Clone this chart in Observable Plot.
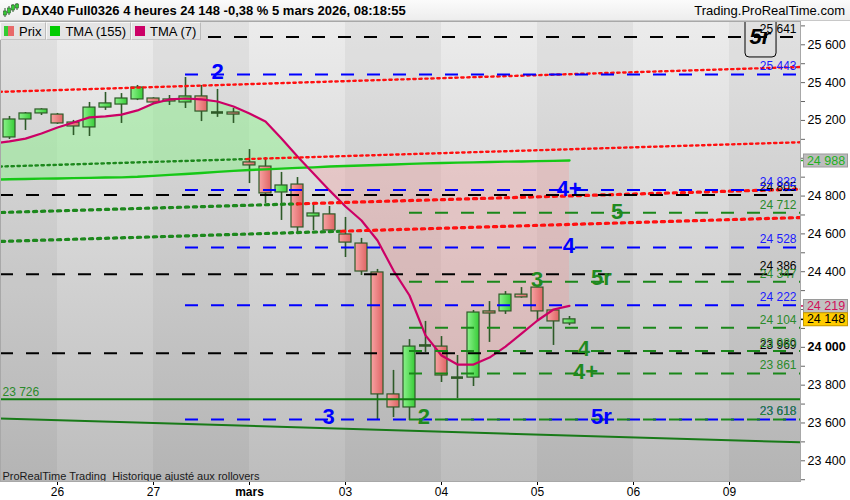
<!DOCTYPE html>
<html lang="fr">
<head>
<meta charset="utf-8">
<script src="https://cdn.jsdelivr.net/npm/d3@7"></script>
<script src="https://cdn.jsdelivr.net/npm/@observablehq/plot@0.6"></script>
<style>
  html, body { margin: 0; padding: 0; background: #fff; }
  #chart { position: relative; width: 850px; height: 500px; overflow: hidden; font-family: "Liberation Sans", Arial, sans-serif; }
  #bar { position: absolute; left: 0; top: 0; width: 850px; height: 21px; background: linear-gradient(#fbfbfb, #ededed); border-bottom: 1px solid #c8c8c8; box-sizing: border-box; }
  #bar .t { position: absolute; left: 22px; top: 3px; font-size: 13px; font-weight: bold; color: #000; white-space: nowrap; }
  #bar .r { position: absolute; right: 5px; top: 3px; font-size: 13px; color: #000; white-space: nowrap; }
  #bar svg { position: absolute; left: 3px; top: 3px; }
  #plot { position: absolute; left: 0; top: 21px; }
  #legend { position: absolute; left: 0; top: 22px; height: 18px; display: flex; font-size: 13px; color: #000; }
  #legend .it { display: flex; align-items: center; background: #e4e4e4; border: 1px solid #f7f7f7; border-right-color: #bcbcbc; border-bottom-color: #c4c4c4; padding: 0 4px 0 3px; gap: 5px; box-sizing: border-box; height: 18px; }
  #legend .sw { width: 10px; height: 10px; display: inline-block; }
</style>
</head>
<body>
<div id="chart">
  <div id="bar">
    <svg width="16" height="15" viewBox="0 0 16 15">
      <line x1="2" y1="5" x2="2" y2="14" stroke="#2a5a2a"/><rect x="0.5" y="8" width="3" height="4" fill="#3c3" stroke="#2a5a2a" stroke-width="0.6"/>
      <line x1="6" y1="3" x2="6" y2="12" stroke="#2a5a2a"/><rect x="4.5" y="5" width="3" height="5" fill="#3c3" stroke="#2a5a2a" stroke-width="0.6"/>
      <line x1="10" y1="1" x2="10" y2="9" stroke="#2a5a2a"/><rect x="8.5" y="2" width="3" height="5" fill="#3c3" stroke="#2a5a2a" stroke-width="0.6"/>
      <line x1="14" y1="0" x2="14" y2="7" stroke="#2a5a2a"/><rect x="12.5" y="1" width="3" height="4" fill="#3c3" stroke="#2a5a2a" stroke-width="0.6"/>
    </svg>
    <span class="t" id="title"></span>
    <span class="r">Trading.ProRealTime.com</span>
  </div>
  <div id="plot"></div>
  <div id="legend">
    <div class="it"><span class="sw" style="background:linear-gradient(90deg,#33cc33 45%,#e86a6a 45%)"></span>Prix</div>
    <div class="it"><span class="sw" style="background:#00cc00"></span>TMA (155)</div>
    <div class="it"><span class="sw" style="background:#cc0066"></span>TMA (7)</div>
  </div>
</div>
<script>
// ---- 4-hour bars of the DAX40 future (bar index 0 = first bar drawn, 6 bars per session)
const open  = [25110,25205,25237,25231,25189,25163,25268,25284,25311,25316,25311,25295,25327,25242,25242,24978,24956,24819,24861,24692,24703,24597,24549,24396,23751,23682,24010,24004,23840,23840,24190,24190,24279,24316,24195,24126];
const high  = [25221,25242,25262,25237,25200,25295,25348,25342,25385,25320,25332,25427,25385,25364,25263,25046,25004,24925,24898,24761,24745,24687,24576,24412,23878,24041,24137,24057,23957,24195,24242,24295,24316,24320,24200,24163];
const low   = [25099,25147,25226,25179,25120,25115,25253,25184,25305,25284,25279,25263,25194,25216,25184,24866,24761,24671,24602,24618,24612,24475,24380,23613,23629,23613,23973,23814,23729,23793,24026,24174,24260,24142,24010,24115];
const close = [25205,25237,25258,25184,25168,25268,25290,25316,25374,25295,25300,25327,25247,25242,25231,24962,24814,24856,24634,24708,24618,24554,24401,23751,23682,24004,24010,23851,23840,24184,24179,24279,24264,24190,24137,24148];

// ---- moving averages, starting one bar before the first drawn bar
const tmaFirstBar = -1;
const tma7   = [25078,25089,25104,25131,25163,25189,25216,25221,25231,25253,25290,25311,25316,25311,25300,25274,25237,25194,25104,25009,24919,24830,24745,24671,24565,24406,24274,24063,23957,23909,23909,23946,24004,24073,24142,24200,24219];
const tma155 = [24887,24889,24890,24892,24893,24895,24896,24898,24899,24902,24907,24912,24917,24922,24928,24933,24938,24941,24945,24949,24952,24956,24959,24962,24964,24967,24970,24973,24975,24977,24978,24980,24982,24983,24985,24986,24988];

// ---- sessions on the time axis (bar index of each session's first bar)
const sessionStart = [3, 9, 15, 21, 27, 33, 39, 45];
const sessionLabel = ["26", "27", "mars", "03", "04", "05", "06", "09"];

// ---- horizontal levels, and the bar where each family of levels begins
const blackLevels = [25641, 24805, 24386, 23969];
const blueLevels  = [25443, 24832, 24528, 24222, 23618];
const greenLevels = [24712, 24347, 24104, 23980, 23861, 23618];
const blueFromBar = 11;
const greenFromBar = 25;
const supportLevel = 23726;

// ---- trend channels: value at bar -1 and at bar 50, and the bar where the line turns from green to red
const trendStart = [25350, 24955, 24712, 24559];
const trendEnd   = [25484, 25086, 24838, 24688];
const trendTurn  = [-1, 14.8, 18, 20.75];
const lowerTrend = [23625, 23496];

// ---- wave counts written on the chart
const waveText  = ["2", "4+", "4", "3", "5r", "5", "5r", "3", "4", "4+", "2"];
const waveBar   = [13, 34.98, 34.96, 19.94, 37.0, 37.97, 37.0, 32.97, 35.9, 36.0, 25.9];
const waveValue = [25456, 24837, 24536, 23634, 23634, 24718, 24366, 24354, 23991, 23872, 23632];
const waveGroup = ["b", "b", "b", "b", "b", "g", "g", "g", "g", "g", "g"];
const badgeText = "5r";
const badgeBar = 46.9, badgeValue = 25641;
const badgeBox = {bar1: 46.0, bar2: 47.94, value1: 25533, value2: 25780};

const yLabels = [23400, 23600, 23800, 24000, 24200, 24400, 24600, 24800, 25000, 25200, 25400, 25600];

// ------------------------------------------------------------------
const fmt = v => d3.format(",")(v).replace(/,/g, " ");
document.getElementById("title").textContent =
  `DAX40 Full0326 4 heures ${fmt(close[close.length - 1])} -0,38 % 5 mars 2026, 08:18:55`;

const xLo = -0.5625, xHi = 49.4375;        // visible bar range
const yLo = 23290.5, yHi = 25723.2;         // visible price range
const px = 800 / (xHi - xLo);               // pixels per bar
const pxPerPoint = 460 / (yHi - yLo);

const bars = open.map((o, i) => ({bar: i, open: o, high: high[i], low: low[i], close: close[i]}));
const upBars = bars.filter(d => d.close > d.open);
const downBars = bars.filter(d => d.close < d.open);
const dojiBars = bars.filter(d => d.close === d.open);
const half = 6 / px;

const tma = tma7.map((v, i) => ({bar: tmaFirstBar + i, fast: v, slow: tma155[i]}));
// insert the exact crossings so each shaded band closes on the lines
const bands = [];
tma.forEach((r, i) => {
  bands.push(r);
  const n = tma[i + 1];
  if (!n) return;
  const d0 = r.fast - r.slow, d1 = n.fast - n.slow;
  if (d0 * d1 < 0) {
    const t = d0 / (d0 - d1);
    const v = r.slow + t * (n.slow - r.slow);
    bands.push({bar: r.bar + t * (n.bar - r.bar), fast: v, slow: v});
  }
});

// day shading
const sessionEdges = [-1, ...sessionStart, 51];
const darkDays = [];
for (let i = 0; i < sessionEdges.length - 1; i += 2) darkDays.push({a: sessionEdges[i], b: sessionEdges[i + 1]});

// trend channel segments
const trendAt = (i, b) => trendStart[i] + (trendEnd[i] - trendStart[i]) * (b + 1) / 51;
const trendMarks = [];
trendStart.forEach((v, i) => {
  const big = i >= 2;
  const dash = big ? {strokeWidth: 3.2, strokeDasharray: "3.2,4.8"} : {strokeWidth: 2.4, strokeDasharray: "2.4,3.6"};
  const t = trendTurn[i];
  if (t > -1) {
    trendMarks.push(Plot.line([{b: -1, v: trendStart[i]}, {b: t, v: trendAt(i, t)}],
      {x: "b", y: "v", stroke: "#1d881d", clip: true, ...dash}));
  }
  trendMarks.push(Plot.line([{b: Math.max(t, -1), v: trendAt(i, Math.max(t, -1))}, {b: 50, v: trendEnd[i]}],
    {x: "b", y: "v", stroke: "#ff1010", clip: true, ...dash}));
});

const waves = waveText.map((t, i) => ({t, bar: waveBar[i], v: waveValue[i], g: waveGroup[i]}));
const ink = {b: "#0000ff", g: "#1f8a1f"};

const levelRule = (vals, from, stroke) =>
  Plot.ruleY(vals, {y: d => d, x1: from, x2: xHi, stroke, strokeWidth: 2, strokeDasharray: "13,13"});
const levelText = (vals, fill) =>
  Plot.text(vals, {y: d => d, text: fmt, frameAnchor: "right", textAnchor: "end", dx: -4, dy: -8, fill, fontSize: 12});

const lastFast = tma7[tma7.length - 1], lastSlow = tma155[tma155.length - 1], lastClose = close[close.length - 1];
const boxed = [lastSlow, lastFast, lastClose];
const priceBox = (v, fillBox, border, ink) => [
  Plot.ruleY([v], {y: d => d, x1: xHi, x2: xHi + 5 / px, stroke: ink, strokeWidth: 1.5}),
  Plot.ruleY([v], {y: d => d, x1: xHi + 3 / px, x2: xHi + 48 / px, stroke: border, strokeWidth: 14}),
  Plot.ruleY([v], {y: d => d, x1: xHi + 4 / px, x2: xHi + 47 / px, stroke: fillBox, strokeWidth: 12}),
  Plot.text([v], {y: d => d, text: fmt, frameAnchor: "right", textAnchor: "middle", dx: 25.5, fill: ink, fontSize: 12.5})
];
// axis labels that sit under a boxed price are covered by it
const shownLabels = yLabels.filter(v => boxed.every(b => Math.abs(b - v) * pxPerPoint > 10));

const chart = Plot.plot({
  width: 850,
  height: 479,
  marginTop: 0, marginRight: 50, marginBottom: 19, marginLeft: 0,
  style: {fontFamily: '"Liberation Sans", Arial, sans-serif', fontSize: "12px", background: "transparent", color: "#000"},
  x: {domain: [xLo, xHi], ticks: sessionStart, tickFormat: d => sessionLabel[sessionStart.indexOf(d)], tickSize: 4, tickPadding: 2, label: null},
  y: {domain: [yLo, yHi], axis: null},
  color: {type: "identity"},
  marks: [
    Plot.frame({fill: "url(#bgGrad)"}),
    Plot.rect(darkDays, {x1: "a", x2: "b", fill: "#000", fillOpacity: 0.045, clip: true}),

    // area between the fast and slow averages
    Plot.areaY(bands, {x: "bar", y1: "slow", y2: d => Math.max(d.fast, d.slow), fill: "#8cf08c", fillOpacity: 0.5, clip: true}),
    Plot.areaY(bands, {x: "bar", y1: "slow", y2: d => Math.min(d.fast, d.slow), fill: "#f59a9a", fillOpacity: 0.33, clip: true}),

    // candles
    Plot.ruleX(bars, {x: "bar", y1: "low", y2: "high", stroke: "#2e5a28", strokeWidth: 1.6}),
    Plot.rect(upBars, {x1: d => d.bar - half, x2: d => d.bar + half, y1: "open", y2: "close", fill: "url(#gUp)", stroke: "#2e5a28", strokeWidth: 1.2}),
    Plot.rect(downBars, {x1: d => d.bar - half, x2: d => d.bar + half, y1: "open", y2: "close", fill: "url(#gDn)", stroke: "#2e5a28", strokeWidth: 1.2}),
    Plot.ruleY(dojiBars, {y: "open", x1: d => d.bar - half, x2: d => d.bar + half, stroke: "#2e5a28", strokeWidth: 2.6}),

    // averages
    Plot.line(tma, {x: "bar", y: "slow", stroke: "#16c816", strokeWidth: 2.4, clip: true}),
    Plot.line(tma, {x: "bar", y: "fast", stroke: "#cc0066", strokeWidth: 2.2, clip: true}),

    // trend channel and supports
    ...trendMarks,
    Plot.ruleY([supportLevel], {y: d => d, x1: xLo, x2: xHi, stroke: "#127c12", strokeWidth: 2}),
    Plot.line([{b: -1, v: lowerTrend[0]}, {b: 50, v: lowerTrend[1]}], {x: "b", y: "v", stroke: "#187a18", strokeWidth: 2, clip: true}),

    // horizontal levels
    levelRule(blackLevels, xLo, "#000"),
    levelRule(blueLevels, blueFromBar, "#0000ff"),
    levelRule(greenLevels, greenFromBar, "#1a871a"),
    levelText(blackLevels, "#000"),
    levelText(blueLevels, "#1a1aff"),
    levelText(greenLevels, "#2a8a2a"),
    Plot.text([supportLevel], {y: d => d, text: fmt, frameAnchor: "left", textAnchor: "start", dx: 2, dy: -7, fill: "#2a8a2a", fontSize: 12}),

    // wave counts
    Plot.text(waves, {x: "bar", y: "v", text: "t", fill: d => ink[d.g], fontSize: 22, fontWeight: "bold"}),
    Plot.rect([badgeBox], {x1: "bar1", x2: "bar2", y1: "value1", y2: "value2", fill: "none", stroke: "#000", strokeWidth: 1, rx: 4, clip: true}),
    Plot.text([badgeText], {x: () => badgeBar, y: () => badgeValue, text: d => d, fontSize: 22, fontWeight: "bold", fontStyle: "italic", fill: "#000"}),

    Plot.text(["ProRealTime Trading\u00a0 Historique ajusté aux rollovers"], {frameAnchor: "bottom-left", dx: 2, dy: -2, fontSize: 11, fill: "#1a1a1a"}),

    // price axis on the right
    Plot.ruleY(d3.range(23300, 25701, 100), {y: d => d, x1: xHi, x2: xHi + 5 / px, stroke: "#666", strokeWidth: 1}),
    Plot.text(shownLabels.filter(v => v % 1000 !== 0), {y: d => d, text: fmt, frameAnchor: "right", textAnchor: "start", dx: 7, fontSize: 12.5}),
    Plot.text(shownLabels.filter(v => v % 1000 === 0), {y: d => d, text: fmt, frameAnchor: "right", textAnchor: "start", dx: 7, fontSize: 12.5, fontWeight: "bold"}),
    ...priceBox(lastSlow, "#bdbdbd", "#9a9a9a", "#20b020"),
    ...priceBox(lastFast, "#c2c2c2", "#9a9a9a", "#d0105a"),
    ...priceBox(lastClose, "#ffcc00", "#c89a00", "#000"),

    Plot.frame({stroke: "#a8a8a8"})
  ]
});

// gradients used by the background and the candle bodies
const svg = d3.select(chart);
const defs = svg.insert("defs", ":first-child");
const grad = (id, vertical, stops) => {
  const g = defs.append("linearGradient").attr("id", id)
    .attr("x1", 0).attr("y1", 0).attr("x2", vertical ? 0 : 1).attr("y2", vertical ? 1 : 0);
  stops.forEach(([o, c]) => g.append("stop").attr("offset", o).attr("stop-color", c));
};
grad("bgGrad", true, [["0%", "#ececec"], ["100%", "#bdbdbd"]]);
grad("gUp", false, [["0%", "#8af28a"], ["100%", "#38cc38"]]);
grad("gDn", false, [["0%", "#f7a3a3"], ["100%", "#df6464"]]);

svg.selectAll("text").filter(function () { return this.textContent === "mars"; }).attr("font-weight", "bold");

document.getElementById("plot").appendChild(chart);
</script>
</body>
</html>
